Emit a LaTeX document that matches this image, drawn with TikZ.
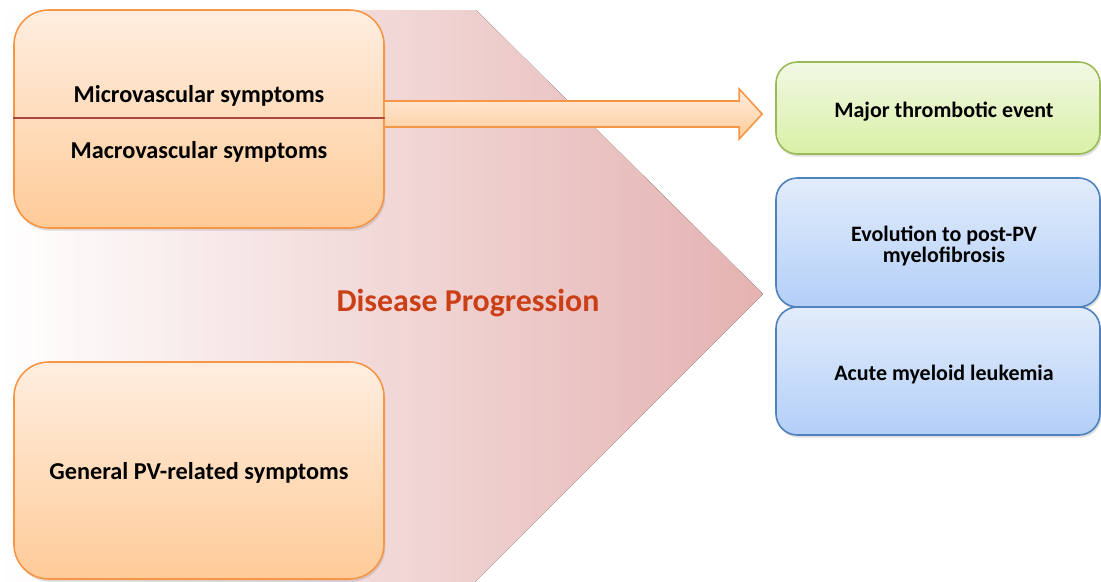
\documentclass[tikz,border=0pt]{standalone}
\usepackage{fontspec}
\setmainfont{Carlito}
\usetikzlibrary{calc, shadows}
\definecolor{boxorange}{HTML}{F79646}
\definecolor{orangetop}{HTML}{FFEEE0}
\definecolor{orangebot}{HTML}{FFCB98}
\definecolor{greenline}{HTML}{9BBB59}
\definecolor{greentop}{HTML}{F2F8E4}
\definecolor{greenbot}{HTML}{D9F0A6}
\definecolor{blueline}{HTML}{4F81BD}
\definecolor{bluetop}{HTML}{E2ECFB}
\definecolor{bluebot}{HTML}{B3CFF8}
\definecolor{progpink}{HTML}{E4B2B1}
\definecolor{progred}{HTML}{CB3F16}
\definecolor{divred}{HTML}{A9483C}

\begin{document}
\begin{tikzpicture}[x=0.75pt,y=-0.75pt,
    symbox/.style={draw=boxorange,line width=1.2pt,rounded corners=26pt,top color=orangetop,bottom color=orangebot,
        minimum width=277.5pt,drop shadow={opacity=0.25,shadow xshift=1pt,shadow yshift=-2pt}},
    eventbox/.style={draw=greenline,line width=1.2pt,rounded corners=16pt,top color=greentop,bottom color=greenbot,
        minimum width=243pt,align=center,drop shadow={opacity=0.25,shadow xshift=1pt,shadow yshift=-2pt}},
    evolbox/.style={draw=blueline,line width=1.2pt,rounded corners=16pt,top color=bluetop,bottom color=bluebot,
        minimum width=243pt,align=center,drop shadow={opacity=0.25,shadow xshift=1pt,shadow yshift=-2pt}},
    symtxt/.style={font=\fontsize{18.2}{18}\selectfont\bfseries,align=center,yshift=-2pt},
    txt/.style={font=\fontsize{16.5}{15.5}\selectfont\bfseries,align=center,xshift=4.5pt,yshift=-2.5pt},
    blockarrow/.style={draw=boxorange,line width=1.2pt,top color=orangetop,bottom color=orangebot}]
    \useasboundingbox (0,0) rectangle (1101,582);
    \fill[left color=white,right color=progpink] (0,10)--(476,10)--(763,294)--(475,582)--(0,582)--cycle;
    \node[progred,font=\fontsize{23.9}{26}\selectfont\bfseries,yshift=-2pt] (prog) at (468,300) {Disease Progression};
    \node[symbox,minimum height=163.5pt] (vasc) at (199,119) {};
    \node[symbox,minimum height=162.75pt] (general) at (199,470.5) {};
    \node[symtxt] (micro) at (199,93) {Microvascular symptoms};
    \node[symtxt] (macro) at (199,149) {Macrovascular symptoms};
    \node[symtxt] (gen) at (general) {General PV-related symptoms};
    \coordinate (divL) at (vasc.west |- 0,118);
    \coordinate (divR) at (vasc.east |- 0,118);
    \draw[divred,line width=1.3pt] (divL)--(divR);
    \node[eventbox,minimum height=69pt] (major) at (938,108) {};
    \node[evolbox,minimum height=96.75pt] (evol) at (938,242.5) {};
    \node[evolbox,minimum height=96pt] (aml) at (938,371) {};
    \node[txt] (majortxt) at (major) {Major thrombotic event};
    \node[txt] (evoltxt) at (evol) {Evolution to post-PV\\myelofibrosis};
    \node[txt] (amltxt) at (aml) {Acute myeloid leukemia};
    \coordinate (tip) at ($(major.west)+(-13,6)$);
    \draw[blockarrow] ($(vasc.east |- tip)+(0,-13)$)--($(tip)+(-23,-13)$)--($(tip)+(-23,-25)$)--(tip)
        --($(tip)+(-23,25)$)--($(tip)+(-23,13)$)--($(vasc.east |- tip)+(0,13)$);
\end{tikzpicture}
\end{document}
